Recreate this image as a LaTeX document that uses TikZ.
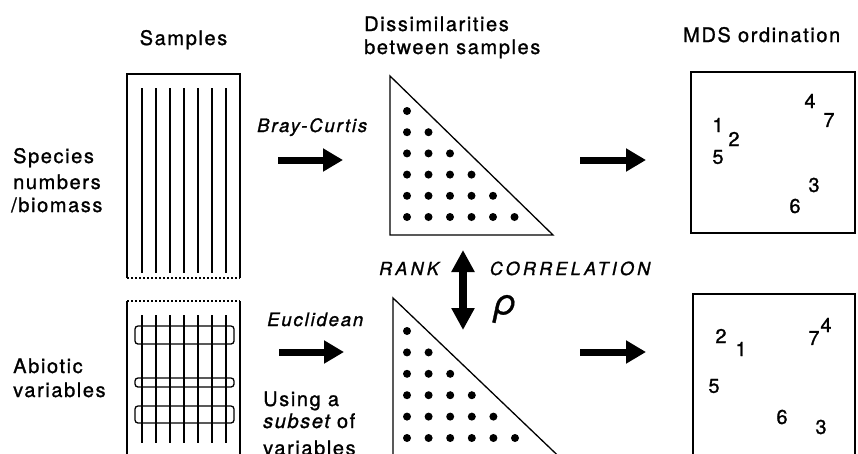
\documentclass[tikz,border=0pt]{standalone}
\usepackage{fontspec}
\setmainfont[FakeBold=1]{TeX Gyre Heros}
\newfontfamily\hv[LetterSpace=8,FakeBold=1.2]{TeX Gyre Heros}
\newfontfamily\hvi[LetterSpace=10,FakeBold=1.2]{TeX Gyre Heros}
\newfontfamily\hvr[LetterSpace=18,FakeBold=1.2]{TeX Gyre Heros}
\usetikzlibrary{arrows.meta}
\begin{document}
\begin{tikzpicture}[x=1pt,y=-1pt,
  lbl/.style={inner sep=0pt, anchor=base west, font=\hv\fontsize{20}{24}\selectfont},
  ctr/.style={inner sep=0pt, anchor=base, font=\hv\fontsize{20}{24}\selectfont},
  itl/.style={inner sep=0pt, anchor=base west, font=\hvi\itshape\fontsize{18.5}{22}\selectfont},
  capit/.style={inner sep=0pt, anchor=base, font=\hvr\itshape\fontsize{18}{22}\selectfont},
  num/.style={inner sep=0pt, font=\hv\fontsize{20}{24}\selectfont},
  frame/.style={line width=1.4pt},
  thin/.style={line width=1.3pt},
  fat/.style={line width=7pt, -{Triangle[length=20pt,width=22pt]}},
  dbl/.style={line width=8pt, {Triangle[length=22pt,width=22pt]}-{Triangle[length=22pt,width=22pt]}},
  dot/.style={circle, fill, inner sep=0pt, minimum size=8pt}
]
\useasboundingbox (0,0) rectangle (858,453);
\clip (0,0) rectangle (858,453);

% headings
\node[ctr] (hSamples) at (183.5,45) {Samples};
\node[lbl] (hDiss1) at (364,31) {Dissimilarities};
\node[lbl] (hDiss2) at (364,54) {between samples};
\node[lbl] (hMDS) at (683,42) {MDS ordination};

% row labels
\node[lbl] (lSp1) at (13,163) {Species};
\node[lbl] (lSp2) at (13,189) {numbers};
\node[lbl] (lSp3) at (11,212) {/biomass};
\node[lbl] (lAb1) at (13,373) {Abiotic};
\node[lbl] (lAb2) at (13,397) {variables};

% samples boxes
\draw[frame] (127,278) -- (127,74) -- (240,74) -- (240,278);
\draw[frame, dash pattern=on 2pt off 2pt] (127,278) -- (240,278);
\foreach \i in {0,...,6} \draw[thin] (142+14*\i,88) -- (142+14*\i,273);

\draw[frame] (127,460) -- (127,301);
\draw[frame] (240,301) -- (240,460);
\draw[frame, dash pattern=on 2pt off 2pt] (127,301) -- (240,301);
\draw[thin, rounded corners=3pt] (135,326) rectangle (234,344);
\draw[thin, rounded corners=3pt] (135,378) rectangle (234,387);
\draw[thin, rounded corners=3pt] (135,406) rectangle (234,423);
\foreach \i in {0,...,6} \draw[thin] (142+14*\i,315) -- (142+14*\i,443);

% left arrows and labels
\node[itl] (lBC) at (257,132) {Bray-Curtis};
\coordinate (a1s) at (278,160);
\coordinate (a1e) at (343,160);
\draw[fat] (a1s) -- (a1e);

\node[itl] (lEu) at (267,326) {Euclidean};
\coordinate (a2s) at (279,352);
\coordinate (a2e) at (344,352);
\draw[fat] (a2s) -- (a2e);

\node[lbl] (lUs1) at (263,406) {Using a};
\node[lbl] (lUs2) at (263,428) {{\itshape subset} of};
\node[lbl] (lUs3) at (263,455) {variables};

% triangles
\draw[thin, line join=miter] (390,76) -- (390,235) -- (553,235) -- cycle;
\foreach \r in {0,...,5}
  \foreach \c in {0,...,\r}
    \node[dot] at (407+21.5*\c,111+21.2*\r) {};

\draw[thin] (393,298) -- (393,470) -- (573,470) -- cycle;
\foreach \r in {0,...,5}
  \foreach \c in {0,...,\r}
    \node[dot] at (407+21.6*\c,331+21.4*\r) {};

% rank correlation
\node[capit] (lRank) at (409,275) {RANK};
\node[capit] (lCorr) at (570,275) {CORRELATION};
\coordinate (dTop) at (463,250);
\coordinate (dBot) at (463,330);
\draw[dbl] (dTop) -- (dBot);
\node[inner sep=0pt, font=\itshape\fontsize{36}{40}\selectfont] (rho) at (505,309) {ρ};

% right arrows
\coordinate (a3s) at (580,160);
\coordinate (a3e) at (646,160);
\draw[fat] (a3s) -- (a3e);
\coordinate (a4s) at (580,352);
\coordinate (a4e) at (646,352);
\draw[fat] (a4s) -- (a4e);

% MDS boxes
\draw[frame] (691,72) rectangle (855,233);
\node[num] (t4) at (810,101) {4};
\node[num] (t7) at (829,120) {7};
\node[num] (t1) at (718,125) {1};
\node[num] (t2) at (734,139) {2};
\node[num] (t5) at (718,157) {5};
\node[num] (t3) at (814,185) {3};
\node[num] (t6) at (795,206) {6};

\draw[frame] (693,470) -- (693,294) -- (855,294) -- (855,470);
\node[num] (b2) at (721,336) {2};
\node[num] (b1) at (741,349) {1};
\node[num] (b7) at (814,338) {7};
\node[num] (b4) at (826,325) {4};
\node[num] (b5) at (714,386) {5};
\node[num] (b6) at (782,417) {6};
\node[num] (b3) at (821,427) {3};
\end{tikzpicture}
\end{document}
